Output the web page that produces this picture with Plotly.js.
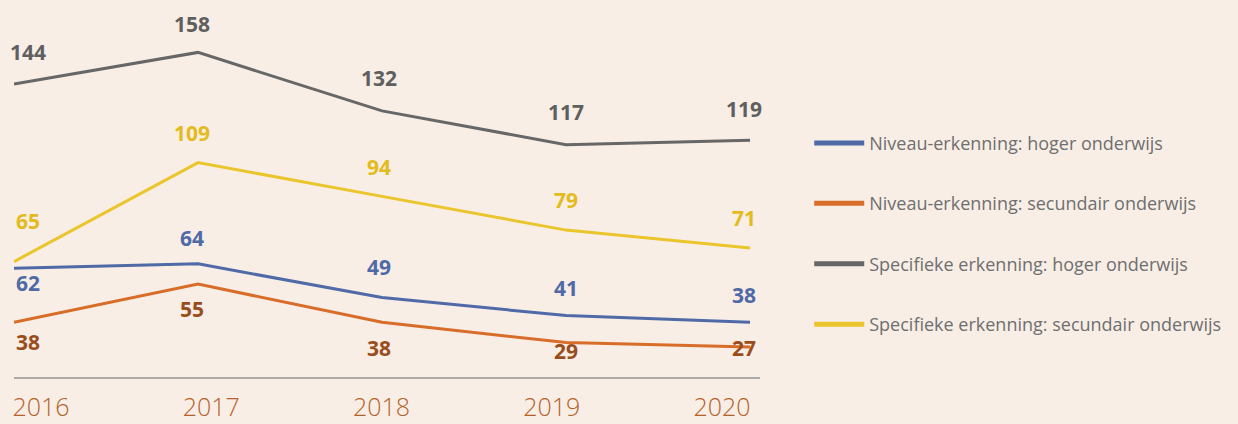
<!DOCTYPE html>
<html>
<head>
<meta charset="utf-8">
<script src="https://cdn.plot.ly/plotly-3.0.1.min.js"></script>
<style>
html,body{margin:0;padding:0;background:#f8eee6;}
#chart{width:1238px;height:424px;}
</style>
</head>
<body>
<div id="chart"></div>
<script>
// ---- data ----
const years = ['2016', '2017', '2018', '2019', '2020'];
const seriesNames = [
  'Niveau-erkenning: hoger onderwijs',
  'Niveau-erkenning: secundair onderwijs',
  'Specifieke erkenning: hoger onderwijs',
  'Specifieke erkenning: secundair onderwijs'
];
const niveauHoger = [62, 64, 49, 41, 38];
const niveauSecundair = [38, 55, 38, 29, 27];
const specifiekHoger = [144, 158, 132, 117, 119];
const specifiekSecundair = [65, 109, 94, 79, 71];

// ---- styles ----
const lineColors = ['#4f6aa7', '#d86c29', '#676767', '#ebc52c'];
const labelColors = ['#4f6aa7', '#9a4d1c', '#5f5f5f', '#e3bb1c'];
const labelDy = [
  [-15, 26, 31, 28, 27],
  [-20, -25, -26, -8, -1],
  [32, 28, 33, 33, 31],
  [41, 30, 29, 30, 30]
];
const labelDx = [14, -6, -3, 0, -6];

const allSeries = [niveauHoger, niveauSecundair, specifiekHoger, specifiekSecundair];

const traces = allSeries.map((vals, s) => ({
  type: 'scatter', mode: 'lines',
  x: years, y: vals,
  name: seriesNames[s],
  legendgroup: 'g' + s,
  line: {color: lineColors[s], width: 3},
  hoverinfo: 'skip',
  cliponaxis: false
}));
// helper trace carrying the tick labels on the second x axis
traces.push({
  type: 'scatter', mode: 'lines', x: years, y: years.map(() => null),
  xaxis: 'x2', showlegend: false, hoverinfo: 'skip'
});

const annotations = [];
allSeries.forEach((vals, s) => {
  vals.forEach((v, i) => {
    annotations.push({
      x: i, y: v, xref: 'x', yref: 'y',
      text: String(v), showarrow: false,
      xshift: labelDx[i], yshift: labelDy[s][i],
      font: {family: 'Open Sans, sans-serif', size: 21, color: labelColors[s]},
      xanchor: 'center', yanchor: 'middle'
    });
  });
});

const layout = {
  width: 1238, height: 424,
  paper_bgcolor: '#f8eee6', plot_bgcolor: '#f8eee6',
  margin: {l: 14, r: 478, t: 0, b: 47},
  showlegend: true,
  legend: {
    x: 1.066, xanchor: 'left', y: 0.38, yanchor: 'middle',
    bgcolor: 'rgba(0,0,0,0)',
    font: {family: 'Open Sans, sans-serif', size: 18, color: '#6f6f6f'},
    tracegroupgap: 34, traceorder: 'grouped', itemwidth: 50
  },
  xaxis: {
    type: 'category', range: [0, 4.054],
    showgrid: false, zeroline: false, showticklabels: false,
    showline: true, linecolor: '#ababab', linewidth: 2, ticks: ''
  },
  xaxis2: {
    type: 'category', overlaying: 'x', side: 'bottom',
    range: [-0.159, 4.223],
    showgrid: false, zeroline: false, showline: false, ticks: '',
    tickfont: {family: 'Open Sans, sans-serif', size: 25, weight: 300, color: '#b4622a'},
    ticklabelstandoff: 13
  },
  yaxis: {
    range: [13.7, 181.3], visible: false, showgrid: false, zeroline: false
  },
  annotations: annotations
};

Plotly.newPlot('chart', traces, layout, {displayModeBar: false}).then(() => {
  document.querySelectorAll('.annotation-text').forEach(t => t.style.fontWeight = '700');
  document.querySelectorAll('.legend .legendlines path').forEach(p => p.style.strokeWidth = '5px');
}).catch(e => {
  const d = document.createElement('pre'); d.textContent = String(e && e.stack || e);
  document.body.appendChild(d);
});
</script>
</body>
</html>
